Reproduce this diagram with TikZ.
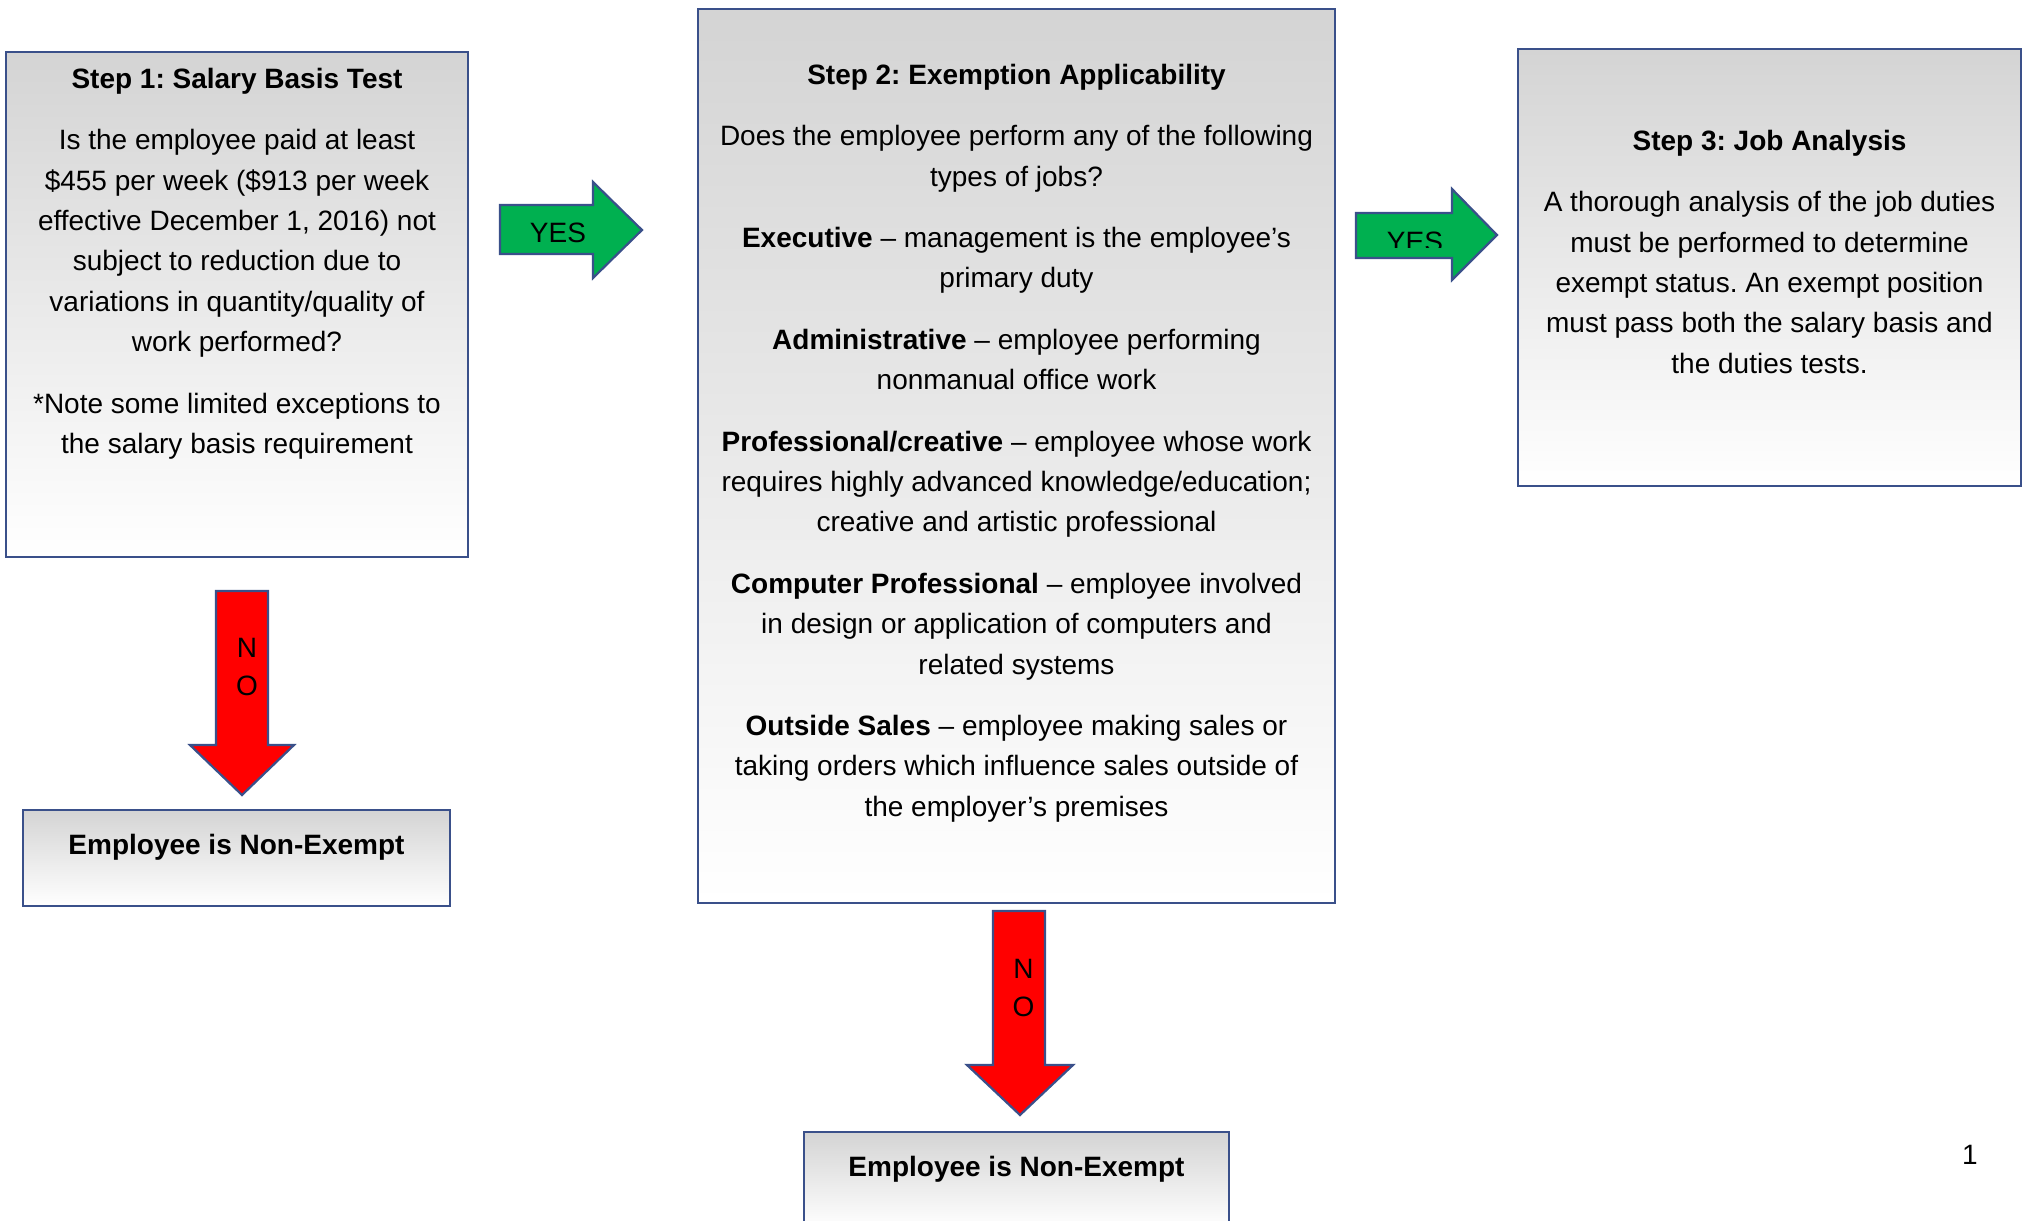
\documentclass[tikz,border=0pt]{standalone}
\usepackage{fontspec}
\setmainfont{Liberation Sans}
\usepackage{xcolor}
\definecolor{boxblue}{RGB}{58,80,138}
\definecolor{boxgray}{RGB}{212,212,212}
\definecolor{yesgreen}{RGB}{0,176,80}
\definecolor{nored}{RGB}{255,0,0}
\usetikzlibrary{positioning}
\frenchspacing

\begin{document}
\begin{tikzpicture}[x=0.5pt,y=-0.5pt,
	stepbox/.style={
		draw=boxblue,          % blue border
		line width=1.4pt,      % border thickness
		top color=boxgray,     % grey at the top
		bottom color=white,    % fading to white
		rectangle,             % shape
		inner sep=0pt          % no padding
	},
	steptext/.style={
		align=center,
		inner sep=0pt,
		font=\fontsize{14}{20.2}\selectfont
	},
	yesarrow/.style={draw=boxblue, line width=1.1pt, fill=yesgreen},
	noarrow/.style={draw=boxblue, line width=1.1pt, fill=nored},
	arrowlabel/.style={inner sep=0pt, align=center, font=\fontsize{14}{19}\selectfont}
	]
	\useasboundingbox (0,0) rectangle (2026,1221);
	\clip (0,0) rectangle (2026,1221);

	% step boxes
	\node[stepbox, minimum width=231pt, minimum height=252.5pt] (step1) at (237,304.5) {};
	\node[stepbox, minimum width=318.5pt, minimum height=447pt] (step2) at (1016.5,456) {};
	\node[stepbox, minimum width=251.5pt, minimum height=218.5pt] (step3) at (1769.5,267.5) {};
	\node[stepbox, minimum width=213.5pt, minimum height=48pt] (nonexempt1) at (236.5,858) {};
	\node[stepbox, minimum width=212.5pt, minimum height=48pt] (nonexempt2) at (1016.5,1180) {};

	% texts
	\node[steptext, below=8.5pt of step1.north] (step1text) {%
		\textbf{Step 1: Salary Basis Test}\\[10.5pt]
		Is the employee paid at least\\
		\$455 per week (\$913 per week\\
		effective December 1, 2016) not\\
		subject to reduction due to\\
		variations in quantity/quality of\\
		work performed?\\[10.5pt]
		*Note some limited exceptions to\\
		the salary basis requirement};
	\node[steptext, below=28pt of step2.north] (step2text) {%
		\textbf{Step 2: Exemption Applicability}\\[10.5pt]
		Does the employee perform any of the following\\
		types of jobs?\\[10.5pt]
		\textbf{Executive} -- management is the employee's\\
		primary duty\\[10.5pt]
		\textbf{Administrative} -- employee performing\\
		nonmanual office work\\[10.5pt]
		\textbf{Professional/creative} -- employee whose work\\
		requires highly advanced knowledge/education;\\
		creative and artistic professional\\[10.5pt]
		\textbf{Computer Professional} -- employee involved\\
		in design or application of computers and\\
		related systems\\[10.5pt]
		\textbf{Outside Sales} -- employee making sales or\\
		taking orders which influence sales outside of\\
		the employer's premises};
	\node[steptext, below=41pt of step3.north] (step3text) {%
		\textbf{Step 3: Job Analysis}\\[10.5pt]
		A thorough analysis of the job duties\\
		must be performed to determine\\
		exempt status. An exempt position\\
		must pass both the salary basis and\\
		the duties tests.};
	\node[steptext, below=12.5pt of nonexempt1.north] (nonexempt1text) {\textbf{Employee is Non-Exempt}};
	\node[steptext, below=12.5pt of nonexempt2.north] (nonexempt2text) {\textbf{Employee is Non-Exempt}};

	% block arrows
	\draw[yesarrow] (500,205) -- (593,205) -- (593,182) -- (642,230) -- (593,278) -- (593,254) -- (500,254) -- cycle;
	\node[arrowlabel] (yes1) at (558,233) {YES};
	\draw[yesarrow] (1356,213) -- (1452,213) -- (1452,189) -- (1497,235) -- (1452,280) -- (1452,258) -- (1356,258) -- cycle;
	\begin{scope}
		\clip (1356,213) rectangle (1452,247);
		\node[arrowlabel] (yes2) at (1415,242) {YES};
	\end{scope}
	\draw[noarrow] (216,591) -- (268,591) -- (268,745) -- (294,745) -- (242,795) -- (190,745) -- (216,745) -- cycle;
	\node[arrowlabel] (no1) at (247,666.5) {N\\O};
	\draw[noarrow] (993,911) -- (1045,911) -- (1045,1065) -- (1073,1065) -- (1020,1115) -- (967,1065) -- (993,1065) -- cycle;
	\node[arrowlabel] (no2) at (1023.5,987.5) {N\\O};

	\node[inner sep=0pt, font=\fontsize{14}{16}\selectfont] (pagenum) at (1970,1155) {1};
\end{tikzpicture}
\end{document}
